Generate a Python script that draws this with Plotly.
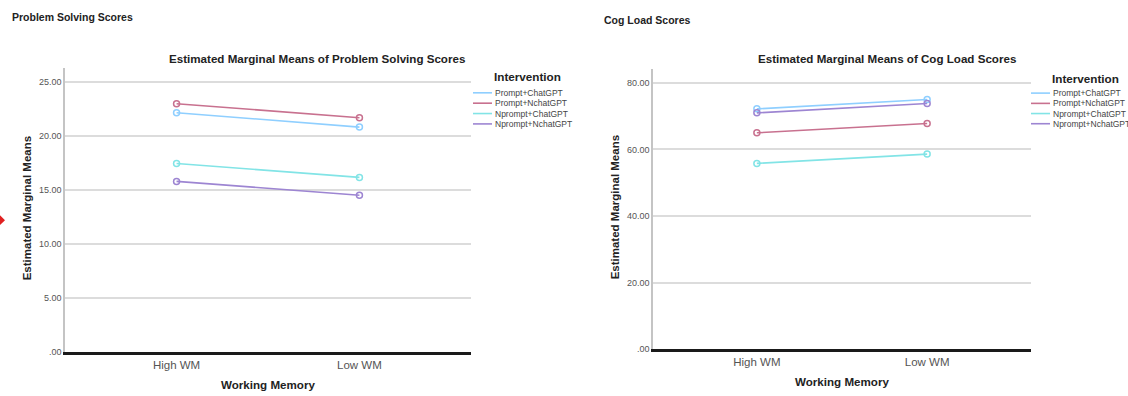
import plotly.graph_objects as go

W, H = 1128, 396

categories = ["High WM", "Low WM"]
groups = ["Prompt+ChatGPT", "Prompt+NchatGPT", "Nprompt+ChatGPT", "Nprompt+NchatGPT"]
colors = ["#8fcfff", "#c8718f", "#82e4e6", "#9d85d2"]

ps_prompt_chat = [22.13, 20.80]
ps_prompt_nchat = [22.96, 21.67]
ps_nprompt_chat = [17.43, 16.15]
ps_nprompt_nchat = [15.78, 14.50]

cl_prompt_chat = [72.2, 75.0]
cl_prompt_nchat = [65.0, 67.8]
cl_nprompt_chat = [55.8, 58.6]
cl_nprompt_nchat = [71.0, 73.8]

ps_ticks = [0, 5, 10, 15, 20, 25]
ps_ticktext = [".00", "5.00", "10.00", "15.00", "20.00", "25.00"]
cl_ticks = [0, 20, 40, 60, 80]
cl_ticktext = [".00", "20.00", "40.00", "60.00", "80.00"]

ps_series = [ps_prompt_chat, ps_prompt_nchat, ps_nprompt_chat, ps_nprompt_nchat]
cl_series = [cl_prompt_chat, cl_prompt_nchat, cl_nprompt_chat, cl_nprompt_nchat]

FONT = "Liberation Sans, Arial, sans-serif"

def px(x):
    return x / W

def py(y):
    return 1 - y / H

fig = go.Figure()
for name, vals, c in zip(groups, ps_series, colors):
    fig.add_trace(go.Scatter(x=categories, y=vals, name=name, mode="lines+markers",
                             line=dict(color=c, width=1.6),
                             marker=dict(symbol="circle-open", size=6, color=c, line=dict(width=1.5)),
                             xaxis="x", yaxis="y", showlegend=False))
for name, vals, c in zip(groups, cl_series, colors):
    fig.add_trace(go.Scatter(x=categories, y=vals, name=name, mode="lines+markers",
                             line=dict(color=c, width=1.6),
                             marker=dict(symbol="circle-open", size=6, color=c, line=dict(width=1.5)),
                             xaxis="x2", yaxis="y2", showlegend=False))

xcommon = dict(type="category", categoryarray=categories, range=[-0.61, 1.61],
               showgrid=False, zeroline=False, showline=True, linecolor="#1a1a1a", linewidth=3,
               ticks="", tickfont=dict(family=FONT, size=11.5, color="#555"), fixedrange=True)
ycommon = dict(showgrid=True, gridcolor="#dcdcdc", gridwidth=1.5, zeroline=False,
               showline=True, linecolor="#c4c4c4", linewidth=1.5, ticks="",
               tickfont=dict(family=FONT, size=9, color="#555"), fixedrange=True)

annotations = []
shapes = []

def add_text(text, x, y, size, bold=False, xanchor="center", color="#222", angle=0, family=FONT):
    annotations.append(dict(text=("<b>%s</b>" % text) if bold else text, x=px(x), y=py(y),
                            xref="paper", yref="paper", xanchor=xanchor, yanchor="middle",
                            showarrow=False, textangle=angle,
                            font=dict(family=family, size=size, color=color)))

def add_legend(x_line0, x_line1, title_y, item_ys):
    add_text("Intervention", x_line1, title_y, 11.7, bold=True, xanchor="left")
    for name, c, yy in zip(groups, colors, item_ys):
        shapes.append(dict(type="line", xref="paper", yref="paper",
                           x0=px(x_line0), x1=px(x_line1), y0=py(yy), y1=py(yy),
                           line=dict(color=c, width=1.6)))
        add_text(name, x_line1 + 1, yy, 8.5, xanchor="left", color="#444")

# left panel texts
add_text("Problem Solving Scores", 10, 17, 10.5, bold=True, xanchor="left")
add_text("Estimated Marginal Means of Problem Solving Scores", 317, 59, 11.6, bold=True)
add_text("Estimated Marginal Means", 27, 211, 11.5, bold=True, angle=-90)
add_text("Working Memory", 268, 389, 11.6, bold=True)
add_legend(473, 492, 77, [94, 104.5, 115, 125.5])

# right panel texts
add_text("Cog Load Scores", 602, 20, 10.5, bold=True, xanchor="left")
add_text("Estimated Marginal Means of Cog Load Scores", 887, 59, 11.6, bold=True)
add_text("Estimated Marginal Means", 615, 210, 11.5, bold=True, angle=-90)
add_text("Working Memory", 842, 386, 11.6, bold=True)
add_legend(1031, 1050, 79, [94.3, 104.7, 115, 125.3])

# small red marker on the left edge
shapes.append(dict(type="path", xref="paper", yref="paper",
                   path="M %f %f L %f %f L %f %f Z" % (px(0), py(218), px(5), py(223), px(0), py(228)),
                   fillcolor="#e02020", line=dict(width=0)))

fig.update_layout(
    width=W, height=H, margin=dict(l=0, r=0, t=0, b=0),
    paper_bgcolor="white", plot_bgcolor="white", showlegend=False,
    xaxis=dict(domain=[px(65), px(471)], anchor="y", **xcommon),
    yaxis=dict(domain=[py(356.5), py(68.5)], range=[0, 26.3], anchor="x",
               tickvals=ps_ticks, ticktext=ps_ticktext, **ycommon),
    xaxis2=dict(domain=[px(653), px(1031)], anchor="y2", **xcommon),
    yaxis2=dict(domain=[py(353.5), py(69.5)], range=[0, 84.3], anchor="x2",
                tickvals=cl_ticks, ticktext=cl_ticktext, **ycommon),
    annotations=annotations, shapes=shapes,
)

fig.write_html("out.html", config={"displayModeBar": False},
               post_script="document.body.style.margin='0';document.body.style.padding='0';document.body.style.overflow='hidden';")
